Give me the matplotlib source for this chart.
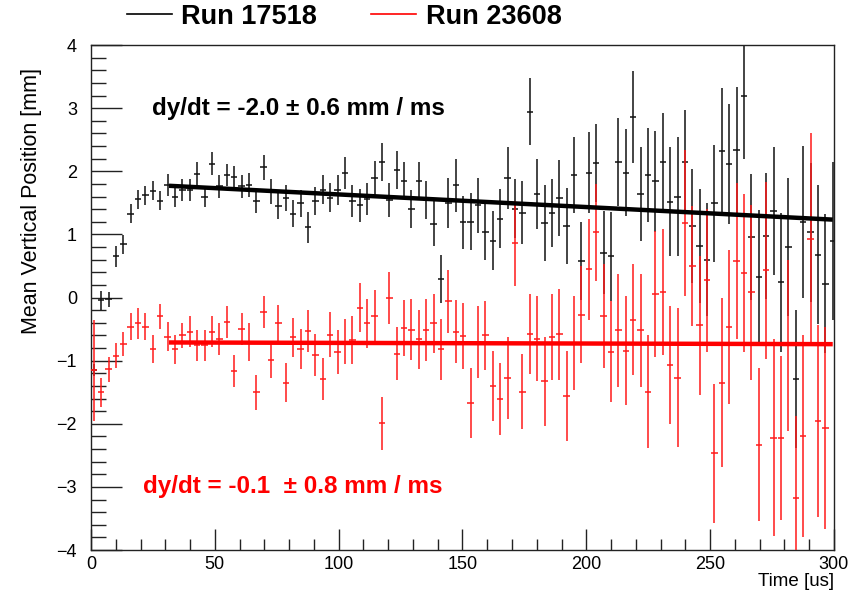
import numpy as np
import matplotlib
matplotlib.use("Agg")
import matplotlib.pyplot as plt
from matplotlib.lines import Line2D
from matplotlib.ticker import MultipleLocator

plt.rcParams['font.family'] = ['Liberation Sans', 'DejaVu Sans']

# binning (20 cyclotron turns per bin)
bin_width = 2.984
first_center = 1.1

# Run 17518 (black)
y_black = [-1.15, -0.04, -0.03, 0.65, 0.84, 1.33, 1.56, 1.62, 1.69, 1.53,
           1.78, 1.60, 1.70, 1.70, 1.96, 1.60, 2.12, 1.76, 1.94, 1.91,
           1.76, 1.78, 1.53, 2.06, 1.68, 1.45, 1.58, 1.33, 1.49, 1.11,
           1.53, 1.71, 1.58, 1.70, 1.97, 1.53, 1.46, 1.56, 1.90, 2.14,
           1.55, 2.02, 1.85, 1.40, 1.85, 1.55, 1.17, 0.30, 1.50, 1.78,
           1.19, 1.20, 1.46, 1.04, 0.90, 1.25, 1.90, 1.41, 1.34, 2.94,
           1.64, 1.18, 1.34, 1.58, 1.13, 1.94, 0.58, 1.98, 2.13, 0.71,
           0.65, 2.15, 1.98, 2.86, 1.64, 1.94, 1.84, 2.15, 1.52, 1.60,
           2.15, 1.13, 0.82, 0.60, 1.49, 2.32, 2.11, 2.34, 3.19, 0.96,
           0.33, 0.98, 1.37, 0.24, 0.80, -1.29, 1.20, 1.03, 0.68, 0.22,
           0.90]
e_black = [0.10, 0.15, 0.12, 0.16, 0.15, 0.15, 0.15, 0.15, 0.15, 0.15,
           0.17, 0.17, 0.17, 0.17, 0.18, 0.17, 0.18, 0.18, 0.18, 0.18,
           0.18, 0.19, 0.19, 0.20, 0.20, 0.20, 0.21, 0.21, 0.22, 0.24,
           0.22, 0.23, 0.23, 0.24, 0.25, 0.25, 0.26, 0.26, 0.27, 0.30,
           0.27, 0.30, 0.29, 0.30, 0.30, 0.30, 0.36, 0.38, 0.40, 0.42,
           0.42, 0.45, 0.44, 0.45, 0.47, 0.47, 0.49, 0.46, 0.50, 0.53,
           0.55, 0.60, 0.54, 0.60, 0.60, 0.60, 0.62, 0.64, 0.62, 0.66,
           0.70, 0.70, 0.69, 0.73, 0.75, 0.75, 0.80, 0.78, 0.87, 0.94,
           0.82, 0.90, 0.90, 0.90, 0.92, 1.00, 0.95, 1.00, 1.00, 1.00,
           1.05, 1.00, 1.02, 1.10, 1.10, 1.10, 1.20, 1.10, 1.10, 1.10,
           1.25]

# Run 23608 (red)
y_red = [-1.15, -1.50, -1.14, -0.92, -0.74, -0.46, -0.41, -0.46, -0.82, -0.30,
         -0.62, -0.82, -0.60, -0.54, -0.76, -0.76, -0.54, -0.66, -0.39, -1.16,
         -0.50, -0.70, -1.50, -0.23, -0.99, -0.41, -1.35, -0.63, -0.82, -0.53,
         -0.91, -1.29, -0.59, -0.86, -0.70, -0.67, -0.16, -0.41, -0.29, -1.99,
         -0.01, -0.89, -0.48, -0.51, -0.66, -0.51, -0.41, -0.82, -0.06, -0.54,
         -0.61, -1.67, -0.70, -0.60, -1.40, -1.61, -1.27, 0.86, -1.49, -0.58,
         -0.65, -1.33, -0.63, -0.58, -1.56, -0.72, -0.27, 0.45, 1.03, -0.29,
         -0.86, -0.52, -0.84, -0.35, -0.52, -1.49, 0.05, 0.09, -1.07, -1.27,
         1.18, 0.50, -0.44, 0.27, -2.47, -1.35, -0.46, 0.58, 0.39, 0.08,
         -2.33, 0.43, -2.22, -2.22, -0.76, -3.17, -2.20, 0.92, -1.96, -2.07]
e_red = [0.80, 0.23, 0.20, 0.20, 0.19, 0.22, 0.24, 0.22, 0.22, 0.20,
         0.23, 0.23, 0.20, 0.25, 0.25, 0.25, 0.25, 0.25, 0.25, 0.25,
         0.26, 0.30, 0.28, 0.26, 0.29, 0.29, 0.31, 0.31, 0.32, 0.34,
         0.33, 0.33, 0.36, 0.35, 0.36, 0.38, 0.39, 0.39, 0.41, 0.42,
         0.41, 0.42, 0.44, 0.48, 0.47, 0.49, 0.47, 0.48, 0.50, 0.50,
         0.53, 0.55, 0.57, 0.55, 0.56, 0.57, 0.65, 0.67, 0.60, 0.63,
         0.67, 0.70, 0.68, 0.72, 0.72, 0.75, 0.77, 0.80, 0.77, 0.82,
         0.80, 0.90, 0.87, 0.88, 0.90, 0.90, 1.00, 1.00, 0.93, 1.10,
         1.15, 0.95, 1.10, 1.13, 1.10, 1.34, 1.22, 1.23, 1.25, 1.39,
         1.21, 1.40, 1.56, 1.30, 1.35, 1.30, 1.60, 1.68, 1.52, 1.60]

# linear fits: start value [mm] and slope [mm/ms], fit range [us]
fit_range = (31.5, 299.5)
fit_black = (1.77, -2.0)
fit_red = (-0.712, -0.1)

t_black = first_center + bin_width * np.arange(len(y_black))
t_red = first_center + bin_width * np.arange(len(y_red))

fig = plt.figure(figsize=(8.61, 5.97), dpi=100)
ax = fig.add_axes([0.1057, 0.0787, 0.8629, 0.8459])

ax.errorbar(t_black, y_black, yerr=e_black, xerr=1.3, fmt='none',
            ecolor='#111111', elinewidth=1.1, capsize=0, zorder=2)
ax.errorbar(t_red, y_red, yerr=e_red, xerr=1.3, fmt='none',
            ecolor='#ff1a1a', elinewidth=1.1, capsize=0, zorder=3)

tf = np.array(fit_range)
ax.plot(tf, fit_black[0] + fit_black[1] * 1e-3 * (tf - tf[0]),
        color='black', lw=3.2, zorder=4, solid_capstyle='butt')
ax.plot(tf, fit_red[0] + fit_red[1] * 1e-3 * (tf - tf[0]),
        color='red', lw=3.2, zorder=4, solid_capstyle='butt')

ax.text(24.5, 3.0, u"dy/dt = -2.0 \u00b1 0.6 mm / ms", color='black',
        fontsize=17.5, fontweight='bold', va='center', ha='left')
ax.text(21.0, -3.0, u"dy/dt = -0.1  \u00b1 0.8 mm / ms", color='red',
        fontsize=17.5, fontweight='bold', va='center', ha='left')

ax.set_xlim(0, 300)
ax.set_ylim(-4, 4)
ax.xaxis.set_major_locator(MultipleLocator(50))
ax.xaxis.set_minor_locator(MultipleLocator(10))
ax.yaxis.set_major_locator(MultipleLocator(1))
ax.yaxis.set_minor_locator(MultipleLocator(0.2))
ax.tick_params(which='both', direction='in', top=False, right=False,
               labelsize=13, width=1.0, color='#222222')
ax.tick_params(axis='y', which='major', length=22, pad=10)
ax.tick_params(axis='y', which='minor', length=11)
ax.tick_params(axis='x', which='major', length=15, pad=4)
ax.tick_params(axis='x', which='minor', length=8)
for s in ax.spines.values():
    s.set_linewidth(1.0)
    s.set_color('#222222')

# axis titles aligned to the axis ends
ax.set_ylabel("Mean Vertical Position [mm]", fontsize=15.5)
ax.yaxis.set_label_coords(-0.066, 0.954)
ax.yaxis.label.set_horizontalalignment('right')
ax.set_xlabel("Time [us]", fontsize=13.5)
ax.xaxis.set_label_coords(1.0, -0.045)
ax.xaxis.label.set_horizontalalignment('right')

handles = [Line2D([], [], color='black', lw=1.2),
           Line2D([], [], color='red', lw=1.2)]
fig.legend(handles, ["Run 17518", "Run 23608"], ncol=2, loc='center',
           bbox_to_anchor=(0.40, 0.972), frameon=False,
           prop={'weight': 'bold', 'size': 19.5}, handlelength=1.65,
           handletextpad=0.36, columnspacing=2.0)

fig.savefig("out.png", dpi=100)
